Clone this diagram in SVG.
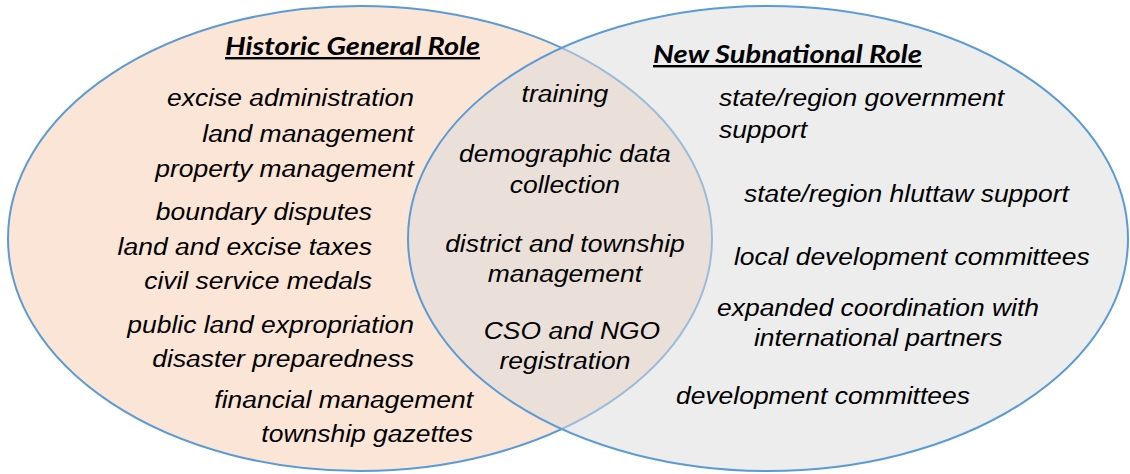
<svg xmlns="http://www.w3.org/2000/svg" width="1130" height="474" viewBox="0 0 1130 474">
  <style>
    .item { font-family: "Liberation Sans", Arial, sans-serif; font-style: italic; font-size: 24.5px; fill: #000; }
    .title { font-family: Lato, "Liberation Sans", sans-serif; font-style: italic; font-weight: bold; font-size: 24px; fill: #000; text-decoration: underline; }
    .end { text-anchor: end; }
    .mid { text-anchor: middle; }
  </style>
  <rect x="0" y="0" width="1130" height="474" fill="#ffffff"/>
  <g id="historic-set">
    <ellipse cx="360" cy="238.5" rx="352" ry="232.5" fill="#FBE5D6" stroke="#5B9BD5" stroke-width="2"/>
  </g>
  <g id="subnational-set">
    <ellipse cx="768" cy="238.5" rx="360" ry="232.5" fill="#DBDBDB" fill-opacity="0.5" stroke="#5B9BD5" stroke-width="2"/>
  </g>
  <g id="titles">
    <text class="title" x="225" y="55" textLength="255" lengthAdjust="spacingAndGlyphs">Historic General Role</text>
    <text class="title" x="653" y="63" textLength="269" lengthAdjust="spacingAndGlyphs">New Subnational Role</text>
  </g>
  <g id="labels" transform="scale(1.08 1)">
    <g id="historic-items" class="item end">
      <text class="item end" x="383.3" y="106">excise administration</text>
      <text class="item end" x="383.3" y="142">land management</text>
      <text class="item end" x="383.3" y="177">property management</text>
      <text class="item end" x="344.4" y="220">boundary disputes</text>
      <text class="item end" x="344.4" y="255">land and excise taxes</text>
      <text class="item end" x="344.4" y="289">civil service medals</text>
      <text class="item end" x="383.3" y="333">public land expropriation</text>
      <text class="item end" x="383.3" y="367">disaster preparedness</text>
      <text class="item end" x="438" y="408">financial management</text>
      <text class="item end" x="438" y="442">township gazettes</text>
    </g>
    <g id="shared-items">
      <text class="item mid" x="523.1" y="102">training</text>
      <text class="item mid" x="523.1" y="162">demographic data</text>
      <text class="item mid" x="523.1" y="193">collection</text>
      <text class="item mid" x="523.1" y="252">district and township</text>
      <text class="item mid" x="523.1" y="282">management</text>
      <text class="item mid" x="529.6" y="339">CSO and NGO</text>
      <text class="item mid" x="523.1" y="369">registration</text>
    </g>
    <g id="subnational-items">
      <text class="item" x="665.7" y="106">state/region government</text>
      <text class="item" x="665.7" y="138">support</text>
      <text class="item" x="688.9" y="202">state/region hluttaw support</text>
      <text class="item" x="679.6" y="265">local development committees</text>
      <text class="item" x="663.9" y="316">expanded coordination with</text>
      <text class="item" x="698.1" y="346">international partners</text>
      <text class="item" x="625.9" y="404">development committees</text>
    </g>
  </g>
</svg>
